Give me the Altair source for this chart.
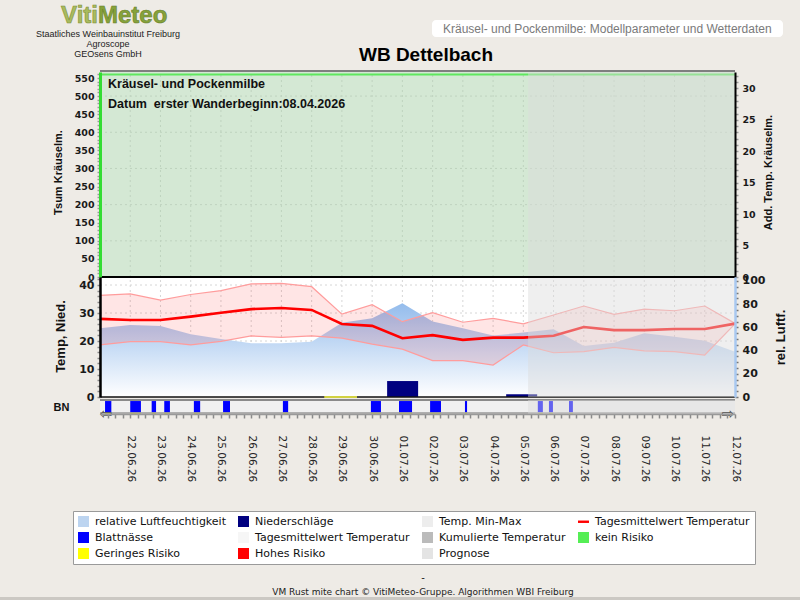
import altair as alt
import pandas as pd

# ---------------- data ----------------
dates = ["2026-06-21", "2026-06-22", "2026-06-23", "2026-06-24", "2026-06-25", "2026-06-26",
         "2026-06-27", "2026-06-28", "2026-06-29", "2026-06-30", "2026-07-01", "2026-07-02",
         "2026-07-03", "2026-07-04", "2026-07-05", "2026-07-06", "2026-07-07", "2026-07-08",
         "2026-07-09", "2026-07-10", "2026-07-11", "2026-07-12"]
t_mean = [27.9, 27.5, 27.5, 28.7, 30.1, 31.4, 31.8, 31.1, 26.1, 25.4, 21.0, 22.1,
          20.4, 21.2, 21.2, 21.9, 25.0, 23.9, 23.9, 24.3, 24.3, 26.2]
t_max = [36.3, 36.8, 34.6, 36.6, 38.0, 40.4, 40.6, 39.4, 29.6, 33.0, 26.9, 30.1,
         26.7, 28.1, 26.1, 29.3, 32.5, 29.5, 31.4, 30.8, 32.5, 26.3]
t_min = [18.6, 19.8, 19.8, 18.6, 19.9, 21.8, 21.3, 21.8, 21.0, 18.9, 17.1, 13.0,
         13.0, 11.4, 18.6, 15.8, 16.2, 17.7, 16.5, 16.2, 15.0, 26.1]
rel_hum = [59.2, 62.0, 61.2, 54.0, 50.0, 46.3, 46.3, 47.7, 64.0, 67.8, 80.7, 65.0,
           59.2, 52.9, 55.5, 58.3, 44.0, 46.8, 54.9, 52.0, 48.5, 39.0]
precip_dates = ["2026-07-01", "2026-07-05"]
precip_mm = [5.7, 1.0]
wet_start = ["2026-06-21T04:00", "2026-06-22T00:00", "2026-06-22T17:00", "2026-06-23T03:00",
             "2026-06-24T02:30", "2026-06-25T01:40", "2026-06-27T01:10", "2026-06-29T23:00",
             "2026-06-30T21:20", "2026-07-01T22:00", "2026-07-03T01:40", "2026-07-05T11:30",
             "2026-07-05T20:20", "2026-07-06T12:15"]
wet_end = ["2026-06-21T09:00", "2026-06-22T08:30", "2026-06-22T20:30", "2026-06-23T07:30",
           "2026-06-24T07:30", "2026-06-25T07:10", "2026-06-27T05:20", "2026-06-30T07:00",
           "2026-07-01T07:40", "2026-07-02T06:40", "2026-07-03T03:20", "2026-07-05T15:30",
           "2026-07-05T23:30", "2026-07-06T15:20"]
risk_low_start = ["2026-06-28T10:00"]
risk_low_end = ["2026-06-29T12:00"]
forecast_start = "2026-07-05T03:45"
period = ["2026-06-21", "2026-07-12"]
top_grid_vals = [100, 200, 300, 400, 500]
mid_grid_vals = [10, 20, 30, 40]

legend_items = ["relative Luftfeuchtigkeit", "Niederschläge", "Temp. Min-Max", "Tagesmittelwert Temperatur",
                "Blattnässe", "Tagesmittelwert Temperatur ", "Kumulierte Temperatur", "kein Risiko",
                "Geringes Risiko", "Hohes Risiko", "Prognose"]
legend_colors = ["#bcd4f0", "#000080", "#ededed", "#ff0000",
                 "#0000ff", "#f6f6f6", "#bbbbbb", "#55ee55",
                 "#ffff00", "#ff0000", "#e4e4e4"]
LINE_SHAPE = "M-1,-0.22L1,-0.22L1,0.22L-1,0.22Z"
legend_shapes = ["square", "square", "square", LINE_SHAPE,
                 "square", "square", "square", "square",
                 "square", "square", "square"]


def utc(s):
    return s + ("T00:00:00Z" if len(s) == 10 else ":00Z")


daily = pd.DataFrame({"t": [utc(d) for d in dates], "mean": t_mean, "tmax": t_max,
                      "tmin": t_min, "hum": rel_hum})
span = pd.DataFrame({"t0": [utc(period[0])], "t1": [utc(period[1])]})
fc = pd.DataFrame({"t0": [utc(forecast_start)], "t1": [utc(period[1])]})
gridv = pd.DataFrame({"t": [utc(d) for d in dates[1:-1]]})
gridh_top = pd.DataFrame({"v": top_grid_vals, "t0": utc(period[0]), "t1": utc(period[1])})
gridh_mid = pd.DataFrame({"v": mid_grid_vals, "t0": utc(period[0]), "t1": utc(period[1])})
precip = pd.DataFrame({"t": [utc(d) for d in precip_dates], "mm": precip_mm})
wet = pd.DataFrame({"t0": [utc(s) for s in wet_start], "t1": [utc(s) for s in wet_end]})
risk = pd.DataFrame({"t0": [utc(s) for s in risk_low_start], "t1": [utc(s) for s in risk_low_end]})
legend_df = pd.DataFrame({"item": legend_items})
one = pd.DataFrame({"a": [1]})

tick_ms = [int(t.timestamp() * 1000) for t in
           pd.date_range("2026-06-21 06:00", "2026-07-12 00:00", freq="6h", tz="UTC")]

# ---------------- scales ----------------
X_START = alt.DateTime(year=2026, month=6, date=21, utc=True)
X_END = alt.DateTime(year=2026, month=7, date=12, utc=True)
S_TOP = ([0, 566.6], [277, 72])
S_TOPR = ([0, 32.6], [277, 72])
S_TEMP = ([0, 42.86], [397, 277])
S_HUM = ([0, 103.4], [397, 277])
S_BN = ([0, 1], [413, 400])


def xs():
    return alt.Scale(type="utc", domain=[X_START, X_END], range=[100, 735])


def sc(s):
    return alt.Scale(domain=s[0], range=s[1], nice=False, zero=False)


def X(field):
    return alt.X(f"{field}:T", scale=xs(), axis=None)


def Yf(field, s, axis=None):
    return alt.Y(f"{field}:Q", scale=sc(s), axis=axis)


def Yd(val, s, axis=None):
    return alt.Y(datum=val, type="quantitative", scale=sc(s), axis=axis)


def label(text, x, y, size=11, color="#000", weight="normal", align="left",
          font="Liberation Sans", **kw):
    return alt.Chart(one).mark_text(text=text, x=x, y=y, fontSize=size, color=color,
                                    fontWeight=weight, align=align, baseline="alphabetic",
                                    font=font, **kw)


TICK_FONT = "DejaVu Sans"

ax_top_left = alt.Axis(orient="left", offset=-100, values=list(range(0, 561, 10)),
                       labelExpr="datum.value % 50 == 0 ? datum.label : ''",
                       domainColor="#33dd33", domainWidth=3, tickColor="#9a9a9a", tickSize=3,
                       tickWidth=1.5, labelFont=TICK_FONT, labelFontSize=9.5, labelFontWeight="bold",
                       labelColor="#1a1a1a", labelPadding=3, labelOverlap=False, grid=False,
                       title="Tsum Kräuselm.", titleFont="Liberation Sans", titleFontSize=11,
                       titleFontWeight="bold", titleColor="#111", titleX=-42, titleY=172,
                       titleAngle=270, titleAlign="center", titleBaseline="middle", zindex=2)
ax_top_right = alt.Axis(orient="right", offset=-65, values=list(range(0, 33, 1)),
                        labelExpr="datum.value % 5 == 0 ? datum.label : ''",
                        domainColor="#000", domainWidth=2, tickColor="#9a9a9a", tickSize=3,
                        tickWidth=1.5, labelFont=TICK_FONT, labelFontSize=9.5, labelFontWeight="bold",
                        labelColor="#1a1a1a", labelPadding=4, labelOverlap=False, grid=False,
                        title="Add. Temp. Kräuselm.", titleFont="Liberation Sans", titleFontSize=11,
                        titleFontWeight="bold", titleColor="#111", titleX=33, titleY=172,
                        titleAngle=270, titleAlign="center", titleBaseline="middle", zindex=2)
ax_temp = alt.Axis(orient="left", offset=-100, values=list(range(0, 43, 2)),
                   labelExpr="datum.value % 10 == 0 ? datum.label : ''",
                   domainColor="#000", domainWidth=2.5, tickColor="#8a8a8a", tickSize=3,
                   tickWidth=1.5, labelFont=TICK_FONT, labelFontSize=11, labelFontWeight="bold",
                   labelColor="#1a1a1a", labelPadding=3, labelOverlap=False, grid=False,
                   title="Temp, Nied.", titleFont="Liberation Sans", titleFontSize=13,
                   titleFontWeight="bold", titleColor="#111", titleX=-39.5, titleY=336,
                   titleAngle=270, titleAlign="center", titleBaseline="middle", zindex=2)
ax_hum = alt.Axis(orient="right", offset=-65, values=list(range(0, 101, 5)),
                  labelExpr="datum.value % 20 == 0 ? datum.label : ''",
                  domainColor="#a8c8f0", domainWidth=2.5, tickColor="#777", tickSize=3,
                  tickWidth=1.5, labelFont=TICK_FONT, labelFontSize=11, labelFontWeight="bold",
                  labelColor="#1a1a1a", labelPadding=4, labelOverlap=False, grid=False,
                  title="rel. Luftf.", titleFont="Liberation Sans", titleFontSize=13,
                  titleFontWeight="bold", titleColor="#111", titleX=45, titleY=337,
                  titleAngle=270, titleAlign="center", titleBaseline="middle", zindex=2)
ax_bn = alt.Axis(orient="left", offset=-100, labels=False, ticks=False, domain=False, grid=False,
                 title="BN", titleFont="Liberation Sans", titleFontSize=11, titleFontWeight="bold",
                 titleColor="#111", titleX=-39, titleY=407, titleAngle=0, titleAlign="center",
                 titleBaseline="middle", zindex=2)
ax_x = alt.Axis(orient="bottom", offset=-186, values=tick_ms,
                labelExpr="utchours(datum.value) == 0 ? utcFormat(datum.value, '%d.%m.%y') : ''",
                labelAngle=90, labelAlign="left", labelBaseline="middle", labelFont=TICK_FONT,
                labelFontSize=10.5, labelColor="#262626", labelPadding=17, labelOverlap=False,
                labelFlush=False, labelBound=False, tickSize=4, tickColor="#8a8a8a", tickWidth=1.5,
                domainColor="#999", domainWidth=1.5, grid=False, title=None, zindex=2)

# ---------------- top panel ----------------
top_bg = alt.Chart(span).mark_rect(color="#d4e8d4").encode(
    x=X("t0"), x2="t1", y=Yd(0, S_TOP, ax_top_left), y2=alt.Y2(datum=566.6))
top_gv = alt.Chart(gridv).mark_rule(color="#bfd3bf", strokeDash=[2, 3]).encode(
    x=X("t"), y=Yd(0, S_TOP), y2=alt.Y2(datum=566.6))
top_gh = alt.Chart(gridh_top).mark_rule(color="#bfd3bf", strokeDash=[2, 3]).encode(
    x=X("t0"), x2="t1", y=Yf("v", S_TOP))
top_green = alt.Chart(span).mark_rule(color="#5fe85f", strokeWidth=2).encode(
    x=X("t0"), x2="t1", y=Yd(560, S_TOP))
top_fc = alt.Chart(fc).mark_rect(color="#dcdcdc", opacity=0.45).encode(
    x=X("t0"), x2="t1", y=Yd(0, S_TOP), y2=alt.Y2(datum=566.6))
top_border = alt.Chart(span).mark_rule(color="#7f7f7f", strokeWidth=2).encode(
    x=X("t0"), x2="t1", y=Yd(569.4, S_TOP))
top_right = alt.Chart(one).mark_rule(opacity=0).encode(y=Yd(0, S_TOPR, ax_top_right))
top_t1 = label("Kräusel- und Pockenmilbe", 108, 88, size=12.5, weight="bold", color="#111")
top_t2 = label("Datum\u00a0 erster Wanderbeginn:08.04.2026", 108, 108, size=12.5, weight="bold",
               color="#111")

# ---------------- middle panel ----------------
mid_bg = alt.Chart(span).mark_rect(color="#ffffff").encode(
    x=X("t0"), x2="t1", y=Yd(0, S_TEMP), y2=alt.Y2(datum=42.86))
mid_gv = alt.Chart(gridv).mark_rule(color="#d6d6d6", strokeDash=[2, 3]).encode(
    x=X("t"), y=Yd(0, S_TEMP), y2=alt.Y2(datum=42.86))
mid_gh = alt.Chart(gridh_mid).mark_rule(color="#d6d6d6", strokeDash=[2, 3]).encode(
    x=X("t0"), x2="t1", y=Yf("v", S_TEMP))
hum_grad = alt.Gradient(gradient="linear",
                        stops=[alt.GradientStop(color="#94bcec", offset=0),
                               alt.GradientStop(color="#ffffff", offset=1)],
                        x1=0, x2=0, y1=0, y2=1)
hum_area = alt.Chart(daily).mark_area(color=hum_grad).encode(
    x=X("t"), y=Yf("hum", S_HUM, ax_hum), y2=alt.Y2(datum=0))
band = alt.Chart(daily).mark_area(color="#ff0000", opacity=0.1).encode(
    x=X("t"), y=Yf("tmax", S_TEMP), y2="tmin")
max_line = alt.Chart(daily).mark_line(color="#ff9c9c", strokeWidth=1.2).encode(
    x=X("t"), y=Yf("tmax", S_TEMP))
min_line = alt.Chart(daily).mark_line(color="#ff9c9c", strokeWidth=1.2).encode(
    x=X("t"), y=Yf("tmin", S_TEMP))
mean_line = alt.Chart(daily).mark_line(color="#ff0000", strokeWidth=2.6).encode(
    x=X("t"), y=Yf("mean", S_TEMP, ax_temp))
precip_bars = alt.Chart(precip).mark_bar(color="#000080", size=31).encode(
    x=X("t"), y=Yf("mm", S_TEMP), y2=alt.Y2(datum=0))
baseline = alt.Chart(span).mark_rule(color="#111", strokeWidth=1.5).encode(
    x=X("t0"), x2="t1", y=Yd(0, S_TEMP))
risk_line = alt.Chart(risk).mark_rule(color="#ffff40", strokeWidth=1.6).encode(
    x=X("t0"), x2="t1", y=Yd(0, S_TEMP))

# ---------------- leaf wetness strip ----------------
bn_bg = alt.Chart(span).mark_rect(color="#f0f0f0").encode(
    x=X("t0"), x2="t1", y=Yd(0, S_BN), y2=alt.Y2(datum=1))
bn_top = alt.Chart(span).mark_rule(color="#8a8a8a", strokeWidth=2).encode(
    x=X("t0"), x2="t1", y=Yd(1, S_BN))
bn_bot = alt.Chart(span).mark_rule(color="#9a9a9a", strokeWidth=1.5).encode(
    x=X("t0"), x2="t1", y=Yd(0, S_BN))
wet_bars = alt.Chart(wet).mark_rect(color="#0000ff").encode(
    x=X("t0"), x2="t1", y=Yd(0.03, S_BN), y2=alt.Y2(datum=0.92))
wet_yellow = alt.Chart(wet).mark_rect(color="#f4f000").encode(
    x=X("t0"), x2="t1", y=Yd(-0.1, S_BN), y2=alt.Y2(datum=0.03))
bn_axis = alt.Chart(one).mark_rule(opacity=0).encode(y=Yd(0, S_BN, ax_bn))

fc_mid = alt.Chart(fc).mark_rect(color="#dcdcdc", opacity=0.45).encode(
    x=X("t0"), x2="t1", y=Yd(0, S_TEMP), y2=alt.Y2(datum=42.86))
fc_bn = alt.Chart(fc).mark_rect(color="#dcdcdc", opacity=0.45).encode(
    x=X("t0"), x2="t1", y=Yd(-0.05, S_BN), y2=alt.Y2(datum=1))
separator = alt.Chart(span).mark_rule(color="#000", strokeWidth=2).encode(
    x=X("t0"), x2="t1", y=Yd(42.86, S_TEMP))

# dedicated time-axis layer (own x scale, same domain and range)
x_axis_layer = alt.Chart(one).mark_rule(opacity=0).encode(
    x=alt.X(datum=X_START, type="temporal", scale=xs(), axis=ax_x))

arrow_l = label("⇦", 106, 419, size=15, color="#555", align="center", font="DejaVu Sans")
arrow_r = label("⇨", 728, 419, size=15, color="#555", align="center", font="DejaVu Sans")

# ---------------- header / footer ----------------
logo1 = label("Viti", 98, 22.5, size=24, weight="bold", color="#a9bb5e", align="right",
              stroke="#7d8f34", strokeWidth=0.6)
logo2 = label("Meteo", 98, 22.5, size=24, weight="bold", color="#86a23a", align="left",
              stroke="#66802a", strokeWidth=0.6)
org1 = label("Staatliches Weinbauinstitut Freiburg", 108, 36.5, size=9, color="#222", align="center")
org2 = label("Agroscope", 108, 46.5, size=9, color="#222", align="center")
org3 = label("GEOsens GmbH", 108, 56.5, size=9, color="#222", align="center")
title = label("WB Dettelbach", 426, 61, size=19, weight="bold", color="#000", align="center")
box = alt.Chart(one).mark_rect(x=432, x2=783, y=20, y2=37, color="#ffffff", cornerRadius=4)
box_t = label("Kräusel- und Pockenmilbe: Modellparameter und Wetterdaten", 443, 33, size=12,
              color="#7a7a7a")
dash = label("-", 423, 581, size=10, color="#222", align="center", font="DejaVu Sans")
footer = label("VM Rust mite chart © VitiMeteo-Gruppe. Algorithmen WBI Freiburg", 423, 595,
               size=9, color="#222", align="center", font="DejaVu Sans")
bottom_bar = alt.Chart(one).mark_rect(x=0, x2=800, y=597, y2=600, color="#cbc8c3")

leg = alt.Legend(orient="none", legendX=73, legendY=511, columns=4, direction="horizontal",
                 title=None, fillColor="#ffffff", strokeColor="#9a9a9a", padding=5,
                 columnPadding=12, rowPadding=4, labelFont="DejaVu Sans", labelFontSize=11,
                 labelColor="#111", labelOffset=6, labelLimit=400, symbolSize=121,
                 symbolStrokeWidth=0, symbolOpacity=1)
legend_layer = alt.Chart(legend_df).transform_filter("false").mark_point(
    filled=True, opacity=1, size=121).encode(
    color=alt.Color("item:N", scale=alt.Scale(domain=legend_items, range=legend_colors), legend=leg),
    shape=alt.Shape("item:N", scale=alt.Scale(domain=legend_items, range=legend_shapes), legend=leg))

chart = alt.layer(
    top_bg, top_gv, top_gh, top_green, top_fc, top_border, top_right, top_t1, top_t2,
    mid_bg, mid_gv, mid_gh, hum_area, band, max_line, min_line, mean_line, precip_bars,
    baseline, risk_line,
    bn_bg, wet_bars, wet_yellow, bn_top, bn_bot, bn_axis,
    fc_mid, fc_bn, separator, x_axis_layer, arrow_l, arrow_r,
    logo1, logo2, org1, org2, org3, title, box, box_t, dash, footer, bottom_bar,
    legend_layer,
).resolve_scale(x="independent", y="independent").properties(
    width=800, height=600, padding=0, autosize=alt.AutoSizeParams(type="none"),
    background="#eeebe6",
).configure_view(stroke=None)

chart.save("out.html", embed_options={"renderer": "svg", "actions": False})
